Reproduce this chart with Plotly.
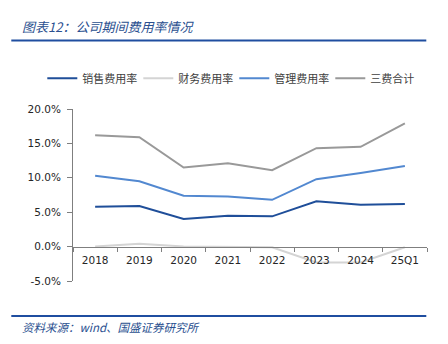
import plotly.graph_objects as go

categories = ["2018", "2019", "2020", "2021", "2022", "2023", "2024", "25Q1"]
sales_rate = [5.8, 5.9, 4.0, 4.5, 4.4, 6.6, 6.1, 6.2]
finance_rate = [0.0, 0.4, 0.0, 0.0, -0.1, -2.3, -2.3, -0.1]
admin_rate = [10.3, 9.5, 7.4, 7.3, 6.8, 9.8, 10.7, 11.7]
total_rate = [16.2, 15.9, 11.5, 12.1, 11.1, 14.3, 14.5, 17.9]
y_ticks = [-5, 0, 5, 10, 15, 20]
y_tick_labels = ["-5.0%", "0.0%", "5.0%", "10.0%", "15.0%", "20.0%"]

W, H = 448, 344
L, R, T, B = 72.7, 21.3, 108.7, 63
PW, PH = W - L - R, H - T - B

def px(x):
    return (x - L) / PW

def py(y):
    return (H - B - y) / PH

series = [
    ("销售费用率", sales_rate, "#1f4e99"),
    ("财务费用率", finance_rate, "#d4d4d4"),
    ("管理费用率", admin_rate, "#5288d0"),
    ("三费合计", total_rate, "#999999"),
]

fig = go.Figure()
for name, vals, col in series:
    fig.add_trace(go.Scatter(x=categories, y=vals, name=name, mode="lines",
                             line=dict(color=col, width=2)))

cjk = "Noto Sans CJK SC"
fig.update_layout(
    width=W, height=H,
    margin=dict(l=L, r=R, t=T, b=B, autoexpand=False),
    paper_bgcolor="white", plot_bgcolor="white",
    showlegend=True,
    legend=dict(orientation="h", xref="paper", yref="paper",
                x=px(42), xanchor="left", y=py(78), yanchor="middle",
                font=dict(family=cjk, size=11, color="#404040"),
                itemwidth=30, entrywidth=51, tracegroupgap=0,
                bgcolor="rgba(0,0,0,0)"),
    xaxis=dict(type="category", range=[-0.5, 7.5], anchor="free", position=0.2,
               showline=True, linecolor="#7f7f7f", linewidth=1,
               ticks="outside", tickson="boundaries", ticklen=4, tickcolor="#7f7f7f",
               showgrid=False, zeroline=False, ticklabelstandoff=4,
               tickfont=dict(family="DejaVu Sans", size=10.5, color="#262626")),
    yaxis=dict(range=[-5, 20], tickvals=y_ticks, ticktext=y_tick_labels,
               showline=True, linecolor="#7f7f7f", linewidth=1,
               ticks="outside", ticklen=5, tickcolor="#7f7f7f",
               showgrid=False, zeroline=False, ticklabelstandoff=4,
               tickfont=dict(family="DejaVu Sans", size=10.5, color="#262626")),
)

blue = "#1f4ea0"
fig.add_shape(type="line", xref="paper", yref="paper", x0=px(11), x1=px(426),
              y0=py(40), y1=py(40), line=dict(color=blue, width=2))
fig.add_shape(type="line", xref="paper", yref="paper", x0=px(11), x1=px(426),
              y0=py(316), y1=py(316), line=dict(color=blue, width=2))

fig.add_annotation(text="<i>图表12：公司期间费用率情况</i>", xref="paper", yref="paper",
                   x=px(20), y=py(26), xanchor="left", yanchor="middle", showarrow=False,
                   font=dict(family=cjk, size=13, color="#2a4f8f"))
fig.add_annotation(text="<i>资料来源：wind、国盛证券研究所</i>", xref="paper", yref="paper",
                   x=px(20), y=py(327), xanchor="left", yanchor="middle", showarrow=False,
                   font=dict(family=cjk, size=11.5, color="#2a4f8f"))

fig.write_html("out.html")
